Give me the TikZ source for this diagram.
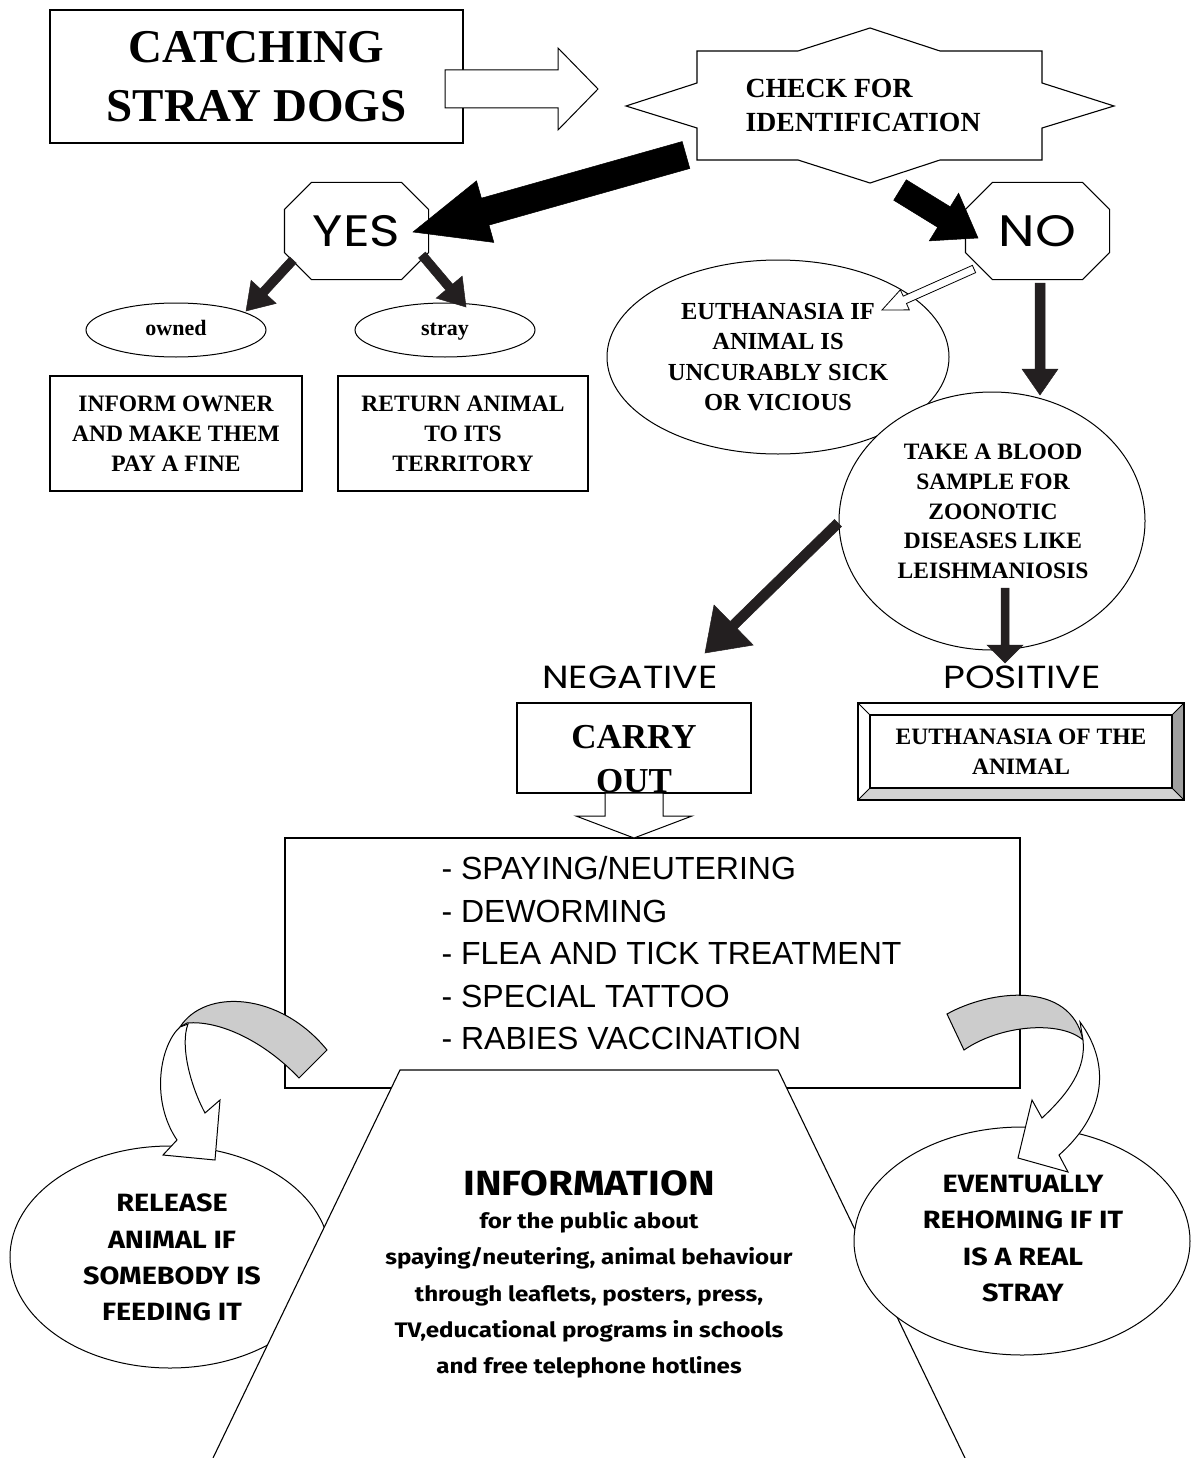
\documentclass[tikz,border=0pt]{standalone}
\usepackage{fontspec}
\setmainfont{Liberation Serif}
\newfontfamily\geofont[FakeStretch=1.18]{Poppins}
\newfontfamily\listfont{Liberation Sans}
\newfontfamily\comicfont[FakeStretch=1.15]{Fira Sans}
\usetikzlibrary{calc}
\usetikzlibrary{shapes.geometric}
\definecolor{arrowdark}{HTML}{231F20}
\tikzstyle{rbox}=[draw, line width=1.1pt, fill=white, inner sep=0pt]
\tikzstyle{ell}=[ellipse, draw, line width=1pt, fill=white, inner sep=0pt]
\tikzstyle{octa}=[minimum width=143pt, minimum height=96pt, inner sep=0pt,
                  font=\geofont\fontsize{44}{44}\selectfont]
\tikzstyle{serif}=[font=\bfseries\fontsize{23.5}{30}\selectfont, align=center,
                   inner sep=0pt]
\tikzstyle{comic}=[font=\comicfont\bfseries\fontsize{25}{36.3}\selectfont,
                   align=center, inner sep=0pt]
\tikzstyle{geo}=[font=\geofont\fontsize{32}{32}\selectfont, inner sep=0pt]
\tikzstyle{listtxt}=[font=\listfont\fontsize{32}{32}\selectfont, inner sep=0pt,
                     anchor=base west]
\tikzstyle{heavy}=[fill=black, draw=black, line width=.5pt]
\tikzstyle{darkarr}=[fill=arrowdark, draw=arrowdark, line width=.5pt]
\tikzstyle{hollow}=[draw=black, fill=white, line width=1pt]
\tikzstyle{band}=[draw, fill=gray!40, line width=1pt]
\tikzstyle{bendpart}=[draw, fill=white, line width=1pt]
% [style]{tail}{tip}{half shaft}{half head}{head length}
\newcommand{\blockarrow}[6][]{%
  \coordinate (bah) at ($(#3)!#6!(#2)$);
  \path[#1] ($(#2)!#4!90:(#3)$) -- ($(bah)!#4!90:(#3)$) -- ($(bah)!#5!90:(#3)$)
    -- (#3) -- ($(bah)!#5!-90:(#3)$) -- ($(bah)!#4!-90:(#3)$)
    -- ($(#2)!#4!-90:(#3)$) -- cycle;}
% octagon round a node
\newcommand{\octagon}[1]{%
  \draw ([xshift=27pt]#1.north west) -- ([xshift=-27pt]#1.north east)
    -- ([yshift=-27pt]#1.north east) -- ([yshift=27pt]#1.south east)
    -- ([xshift=-27pt]#1.south east) -- ([xshift=27pt]#1.south west)
    -- ([yshift=27pt]#1.south west) -- ([yshift=-27pt]#1.north west) -- cycle;}

\begin{document}
\begin{tikzpicture}[x=1pt, y=-1pt, line width=1.1pt]
    \useasboundingbox (0,0) rectangle (1191,1458);
    % top row
    \node[rbox, minimum width=413pt, minimum height=133pt, align=center,
          font=\bfseries\fontsize{47}{59}\selectfont] (title) at (256.5,76.5)
          {CATCHING\\STRAY DOGS};
    \coordinate (titleR) at (445,89);
    \coordinate (chkL) at (598,89);
    \blockarrow[hollow]{titleR}{chkL}{19pt}{41pt}{40pt}
    \draw[fill=white] (697,51) -- (798,51) -- (870,28) -- (940,51) -- (1042,51)
      -- (1042,83) -- (1114,106) -- (1042,128) -- (1042,160) -- (940,160)
      -- (870,183) -- (798,160) -- (697,160) -- (697,128) -- (626,106)
      -- (697,83) -- cycle;
    \node[serif, align=left, anchor=west,
          font=\bfseries\fontsize{27.7}{34}\selectfont] (chk) at (745,105)
          {CHECK FOR\\IDENTIFICATION};
    \node[octa] (yes) at (356.5,231) {YES};
    \node[octa] (no) at (1037.5,231) {NO};
    \octagon{yes}
    \octagon{no}
    \coordinate (chkY) at (686,155);
    \coordinate (yesE) at (413,232);
    \blockarrow[heavy]{chkY}{yesE}{14pt}{32pt}{75pt}
    \coordinate (chkN) at (900,190);
    \coordinate (noW) at (978,238);
    \blockarrow[heavy]{chkN}{noW}{12pt}{28pt}{40pt}
    % yes branch
    \node[ell, minimum width=180pt, minimum height=54pt, text height=15pt,
          text depth=5pt, font=\bfseries\fontsize{22}{22}\selectfont] (owned)
          at (176,330) {owned};
    \node[ell, minimum width=180pt, minimum height=54pt, text height=15pt,
          text depth=5pt, font=\bfseries\fontsize{22}{22}\selectfont] (stray)
          at (445,330) {stray};
    \coordinate (yesSW) at (293,260);
    \coordinate (ownN) at (246,311);
    \coordinate (yesSE) at (422,255);
    \coordinate (strayN) at (466,307);
    \foreach \from/\to in {yesSW/ownN, yesSE/strayN}
      \blockarrow[darkarr]{\from}{\to}{4.5pt}{17pt}{26pt};
    \node[rbox, serif, minimum width=252pt, minimum height=115pt] (inform)
          at (176,433.5) {INFORM OWNER\\AND MAKE THEM\\PAY A FINE};
    \node[rbox, serif, minimum width=250pt, minimum height=115pt] (ret)
          at (463,433.5) {RETURN ANIMAL\\TO ITS\\TERRITORY};
    % no branch
    \node[ell, serif, minimum width=342pt, minimum height=194pt,
          font=\bfseries\fontsize{24.5}{30.3}\selectfont] (euth) at (778,357)
          {EUTHANASIA IF\\ANIMAL IS\\UNCURABLY SICK\\OR VICIOUS};
    \node[ell, minimum width=306pt, minimum height=258pt] (blood) at (992,521) {};
    \node[serif, font=\bfseries\fontsize{23.5}{29.75}\selectfont] (bloodtxt)
          at (993,511.5)
          {TAKE A BLOOD\\SAMPLE FOR\\ZOONOTIC\\DISEASES LIKE\\LEISHMANIOSIS};
    \coordinate (noSW) at (974,269);
    \coordinate (euthNE) at (882,310);
    \blockarrow[hollow, line width=.8pt]{noSW}{euthNE}{4pt}{11pt}{25pt}
    \coordinate (noS) at (1040,283);
    \coordinate (bloodN) at (1040,395);
    \blockarrow[darkarr]{noS}{bloodN}{5pt}{18pt}{26pt}
    \coordinate (bloodW) at (838,523);
    \coordinate (negN) at (705,653);
    \blockarrow[darkarr]{bloodW}{negN}{5pt}{28pt}{40pt}
    \coordinate (bloodS) at (1005,588);
    \coordinate (posN) at (1005,663);
    \blockarrow[darkarr]{bloodS}{posN}{4pt}{18pt}{18pt}
    \node[geo] (neg) at (630,677) {NEGATIVE};
    \node[geo] (pos) at (1022,677) {POSITIVE};
    % bevelled box
    \fill[gray!75] (1184,703) -- (1184,800) -- (1172,788) -- (1172,715) -- cycle;
    \fill[gray!35] (858,800) -- (1184,800) -- (1172,788) -- (870,788) -- cycle;
    \draw (858,703) rectangle (1184,800);
    \draw (870,715) rectangle (1172,788);
    \draw[line width=.8pt] (858,703) -- (870,715) (1184,703) -- (1172,715)
      (858,800) -- (870,788) (1184,800) -- (1172,788);
    \node[serif] (euthtxt) at (1021,752) {EUTHANASIA OF THE\\ANIMAL};
    % carry out
    \node[rbox, minimum width=234pt, minimum height=90pt] (carry) at (634,748) {};
    \begin{scope}
      \clip (carry.south west) rectangle (carry.north east);
      \node[serif, font=\bfseries\fontsize{35}{44}\selectfont] (carrytxt)
            at (634,759) {CARRY\\OUT};
    \end{scope}
    \node[rbox, minimum width=735pt, minimum height=250pt] (list) at (652.5,963) {};
    \coordinate (carryS) at (634,793);
    \coordinate (listN) at (634,838);
    \blockarrow[hollow]{carryS}{listN}{29pt}{58pt}{22pt}
    \foreach \treat [count=\i] in {SPAYING/NEUTERING, DEWORMING,
        FLEA AND TICK TREATMENT, SPECIAL TATTOO, RABIES VACCINATION}
      \node[listtxt] (treat\i) at (441,{879.5+42.5*(\i-1)}) {- \treat};
    % bottom
    \node[ell, minimum width=320pt, minimum height=222pt] (release) at (170,1257) {};
    \node[comic] (releasetxt) at (172,1257.5)
          {RELEASE\\ANIMAL IF\\SOMEBODY IS\\FEEDING IT};
    \fill[white] (400,1070) -- (778,1070) -- (965,1458) -- (213,1458) -- cycle;
    \draw (213,1458) -- (400,1070) -- (778,1070) -- (965,1458);
    \node[comic, font=\comicfont\bfseries\fontsize{35}{35}\selectfont] (infohead)
          at (589,1183) {INFORMATION};
    \node[comic, font=\comicfont\bfseries\fontsize{21}{36.25}\selectfont] (infotxt)
          at (589,1295) {for the public about\\spaying/neutering, animal behaviour\\
          through leaflets, posters, press,\\TV,educational programs in schools\\
          and free telephone hotlines};
    \node[ell, minimum width=336pt, minimum height=228pt] (rehome) at (1022,1241) {};
    \node[comic] (rehometxt) at (1023,1238.5)
          {EVENTUALLY\\REHOMING IF IT\\IS A REAL\\STRAY};
    % curved arrows
    \path[band] (180,1027) .. controls (205,988) and (280,992) .. (327,1050)
      -- (299,1078) .. controls (265,1042) and (220,1020) .. (187,1023) -- cycle;
    \path[bendpart] (180,1027) .. controls (160,1045) and (150,1100) .. (177,1140)
      -- (163,1155) -- (215,1160) -- (220,1100) -- (205,1113)
      .. controls (190,1085) and (180,1045) .. (188,1024) -- cycle;
    \path[band] (947,1014) .. controls (990,990) and (1070,980) .. (1083,1040)
      .. controls (1060,1020) and (1000,1025) .. (964,1050) -- cycle;
    \path[bendpart] (1080,1022) .. controls (1108,1060) and (1110,1110) .. (1059,1155)
      -- (1068,1172) -- (1018,1158) -- (1032,1100) -- (1042,1118)
      .. controls (1070,1092) and (1086,1068) .. (1083,1040) -- cycle;
\end{tikzpicture}
\end{document}
